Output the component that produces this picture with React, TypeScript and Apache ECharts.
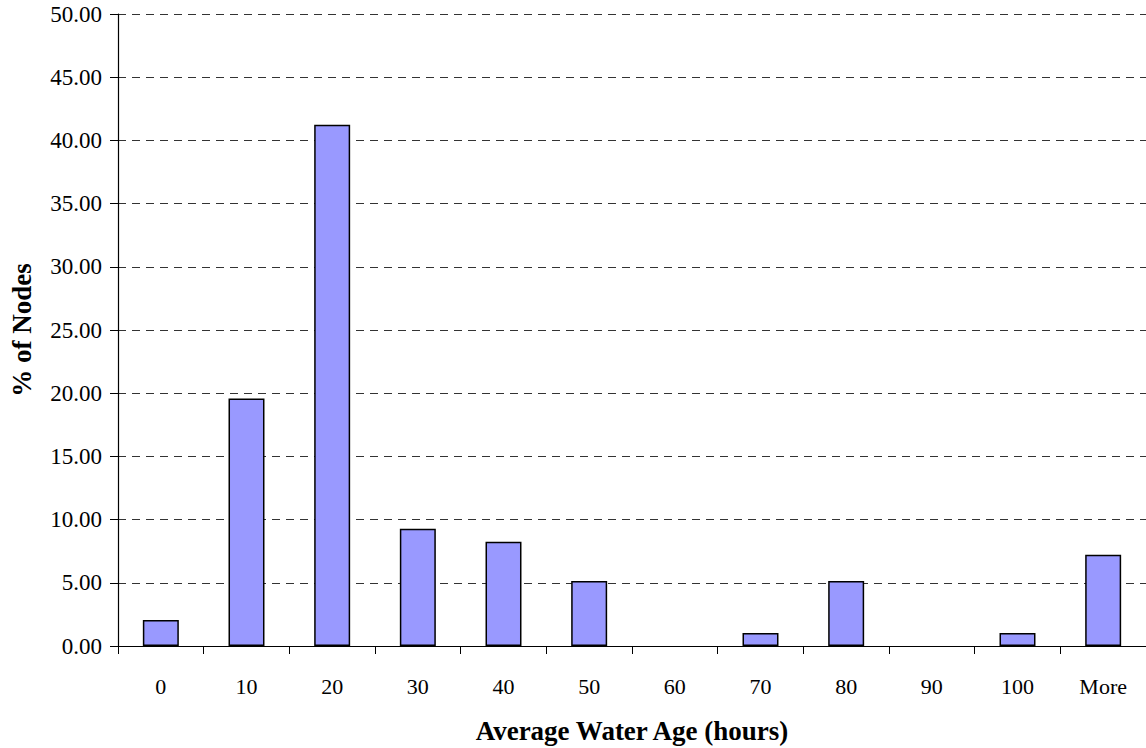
import React, { useEffect, useRef } from "react";
import * as echarts from "echarts";

const categories = ["0", "10", "20", "30", "40", "50", "60", "70", "80", "90", "100", "More"];
const percentNodes = [2.06, 19.59, 41.24, 9.28, 8.25, 5.15, 0, 1.03, 5.15, 0, 1.03, 7.22];
const xTitle = "Average Water Age (hours)";
const yTitle = "% of Nodes";

export default function App() {
  const ref = useRef<HTMLDivElement>(null);
  useEffect(() => {
    if (!ref.current) return;
    const chart = echarts.init(ref.current, null, { renderer: "svg" });
    const font = "'Liberation Serif', 'Times New Roman', serif";
    const barData = percentNodes.map((v) =>
      v === 0 ? { value: v, itemStyle: { borderWidth: 0 } } : { value: v }
    );
    chart.setOption({
      animation: false,
      backgroundColor: "#ffffff",
      grid: {
        left: 118,
        right: 0,
        top: 14,
        bottom: 102,
        containLabel: false,
        outerBoundsMode: "none",
      },
      xAxis: {
        type: "category",
        data: categories,
        name: xTitle,
        nameLocation: "middle",
        nameGap: 71,
        nameTextStyle: { fontFamily: font, fontSize: 27, fontWeight: "bold", color: "#000" },
        axisLine: { lineStyle: { color: "#000", width: 1.2 } },
        axisTick: { show: true, length: 8, lineStyle: { color: "#000" } },
        axisLabel: { fontFamily: font, fontSize: 22, color: "#000", margin: 29 },
        splitLine: { show: false },
      },
      yAxis: {
        type: "value",
        min: 0,
        max: 50,
        interval: 5,
        name: yTitle,
        nameLocation: "middle",
        nameGap: 83,
        nameRotate: 90,
        nameTextStyle: { fontFamily: font, fontSize: 27, fontWeight: "bold", color: "#000" },
        axisLine: { show: true, lineStyle: { color: "#000", width: 1.2 } },
        axisTick: { show: true, length: 8, lineStyle: { color: "#000" } },
        axisLabel: {
          fontFamily: font,
          fontSize: 23,
          color: "#000",
          margin: 16,
          formatter: (v: number) => v.toFixed(2),
        },
        splitLine: { show: true, lineStyle: { color: "#333", type: [8, 6], width: 1 } },
      },
      series: [
        {
          type: "bar",
          data: barData,
          barWidth: "42%",
          itemStyle: { color: "#9999FF", borderColor: "#000", borderWidth: 1.5 },
        },
      ],
    });
    return () => chart.dispose();
  }, []);
  return (
    <div
      ref={ref}
      style={{ position: "fixed", left: 0, top: 0, width: 1146, height: 748, background: "#fff" }}
    />
  );
}
